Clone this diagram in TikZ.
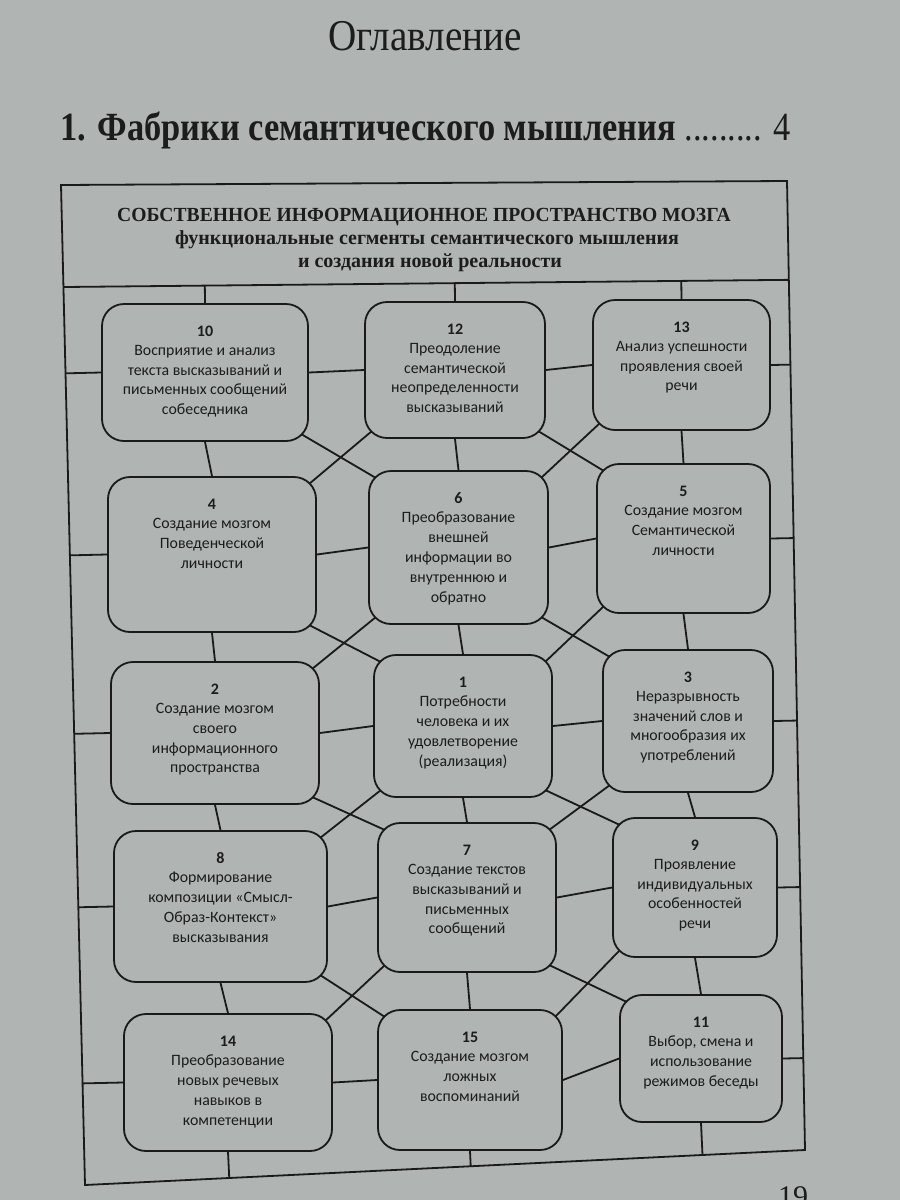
\documentclass[tikz,border=0pt]{standalone}
\usepackage{graphicx}
\usepackage{fontspec}
\setmainfont{Liberation Serif}
\newfontfamily\carl{Carlito}
\usetikzlibrary{calc}
\pgfdeclarelayer{paperlayer}
\pgfdeclarelayer{linelayer}
\pgfsetlayers{paperlayer,linelayer,main}
\definecolor{paper}{RGB}{176,180,178}
\definecolor{ink}{RGB}{26,26,26}
\definecolor{txt}{RGB}{28,28,28}
\tikzset{
  segshape/.style={draw=ink, line width=1.8pt, fill=paper, rounded corners=22pt, inner sep=0pt},
  segnum/.style={font=\carl\bfseries\fontsize{16}{16}\selectfont, text=txt, anchor=base, inner sep=0pt},
  segtxt/.style={font=\carl\fontsize{15.8}{19.8}\selectfont, text=txt, anchor=north, align=center, inner sep=0pt},
  conn/.style={draw=ink, line width=1.8pt},
  hdr/.style={font=\bfseries\fontsize{20}{20}\selectfont, text=txt, anchor=base, inner sep=0pt}
}
\newcommand{\segbox}[7]{%
  \node[segshape, minimum width={(#4-#2)*1pt}, minimum height={(#5-#3)*1pt}] (#1) at ({(#2+#4)/2},{(#3+#5)/2}) {};
  \node[segnum] (#1n) at ({(#2+#4)/2},{#3+32}) {#6};
  \node[segtxt] (#1t) at ({(#2+#4)/2},{#3+41}) {#7};
}
\newcommand{\xcross}[4]{%
  \draw[conn] ($(#1.south east)+(-8,-8)$) -- ($(#4.north west)+(8,8)$);
  \draw[conn] ($(#2.south west)+(8,-8)$) -- ($(#3.north east)+(-8,8)$);
}
\begin{document}
\begin{tikzpicture}[x=1pt,y=-1pt]
\useasboundingbox (0,0) rectangle (900,1200);
\clip (0,0) rectangle (900,1200);
\begin{pgfonlayer}{paperlayer}
  \fill[paper] (0,0) rectangle (900,1200);
\end{pgfonlayer}

% titles
\node[anchor=base, inner sep=0pt, text=txt] (title) at (425,50) {\scalebox{0.89}[1]{\fontsize{44}{44}\selectfont Оглавление}};
\node[anchor=base west, inner sep=0pt, text=txt] (toc) at (60,140) {\scalebox{0.86}[1]{\fontsize{40}{40}\selectfont\textbf{1. Фабрики семантического мышления} ......... 4}};
\node[anchor=base, inner sep=0pt, text=txt] (pg) at (793,1206) {\fontsize{30}{30}\selectfont 19};

% frame
\coordinate (TL) at (61,185);
\coordinate (TR) at (787,181);
\coordinate (BR) at (805,1150);
\coordinate (BL) at (85,1185);
\coordinate (HL) at ($(TL)!0.102!(BL)$);
\coordinate (HR) at ($(TR)!0.102!(BR)$);

\node[hdr] (h1) at (424,221) {\scalebox{0.98}[1]{СОБСТВЕННОЕ ИНФОРМАЦИОННОЕ ПРОСТРАНСТВО МОЗГА}};
\node[hdr] (h2) at (427,244) {функциональные сегменты семантического мышления};
\node[hdr] (h3) at (430,267) {и создания новой реальности};

% boxes
\segbox{b10}{102}{304}{308}{441}{10}{Восприятие и анализ\\текста высказываний и\\письменных сообщений\\собеседника}
\segbox{b12}{365}{302}{545}{438}{12}{Преодоление\\семантической\\неопределенности\\высказываний}
\segbox{b13}{593}{300}{770}{430}{13}{Анализ успешности\\проявления своей\\речи}
\segbox{b4}{108}{477}{316}{632}{4}{Создание мозгом\\Поведенческой\\личности}
\segbox{b6}{369}{471}{548}{624}{6}{Преобразование\\внешней\\информации во\\внутреннюю и\\обратно}
\segbox{b5}{597}{464}{770}{613}{5}{Создание мозгом\\Семантической\\личности}
\segbox{b2}{111}{662}{319}{804}{2}{Создание мозгом\\своего\\информационного\\пространства}
\segbox{b1}{374}{655}{552}{797}{1}{Потребности\\человека и их\\удовлетворение\\(реализация)}
\segbox{b3}{603}{650}{773}{792}{3}{Неразрывность\\значений слов и\\многообразия их\\употреблений}
\segbox{b8}{114}{831}{327}{982}{8}{Формирование\\композиции «Смысл-\\Образ-Контекст»\\высказывания}
\segbox{b7}{378}{823}{556}{972}{7}{Создание текстов\\высказываний и\\письменных\\сообщений}
\segbox{b9}{613}{818}{777}{957}{9}{Проявление\\индивидуальных\\особенностей\\речи}
\segbox{b14}{124}{1014}{332}{1151}{14}{Преобразование\\новых речевых\\навыков в\\компетенции}
\segbox{b15}{378}{1010}{562}{1150}{15}{Создание мозгом\\ложных\\воспоминаний}
\segbox{b11}{620}{995}{782}{1122}{11}{Выбор, смена и\\использование\\режимов беседы}

\begin{pgfonlayer}{linelayer}
  \draw[conn] (TL) -- (TR) -- (BR) -- (BL) -- cycle;
  \draw[conn] (HL) -- (HR);
  % header to top row
  \foreach \b in {b10,b12,b13}
    \draw[conn] ($(HL)!(\b.north)!(HR)$) -- (\b.north);
  % bottom row to frame
  \foreach \b in {b14,b15,b11}
    \draw[conn] (\b.south) -- ($(BL)!(\b.south)!(BR)$);
  % rows: horizontal connectors
  \foreach \l/\m/\r in {b10/b12/b13, b4/b6/b5, b2/b1/b3, b8/b7/b9, b14/b15/b11} {
    \draw[conn] ($(TL)!(\l.west)!(BL)$) -- (\l.west);
    \draw[conn] (\l.east) -- (\m.west);
    \draw[conn] (\m.east) -- (\r.west);
    \draw[conn] (\r.east) -- ($(TR)!(\r.east)!(BR)$);
  }
  % columns: vertical connectors
  \foreach \a/\b in {b10/b4, b4/b2, b2/b8, b8/b14, b12/b6, b6/b1, b1/b7, b7/b15, b13/b5, b5/b3, b3/b9, b9/b11}
    \draw[conn] (\a.south) -- (\b.north);
  % diagonal crossings
  \xcross{b10}{b12}{b4}{b6}
  \xcross{b12}{b13}{b6}{b5}
  \xcross{b4}{b6}{b2}{b1}
  \xcross{b6}{b5}{b1}{b3}
  \xcross{b2}{b1}{b8}{b7}
  \xcross{b1}{b3}{b7}{b9}
  \xcross{b8}{b7}{b14}{b15}
  \xcross{b7}{b9}{b15}{b11}
\end{pgfonlayer}
\end{tikzpicture}
\end{document}
